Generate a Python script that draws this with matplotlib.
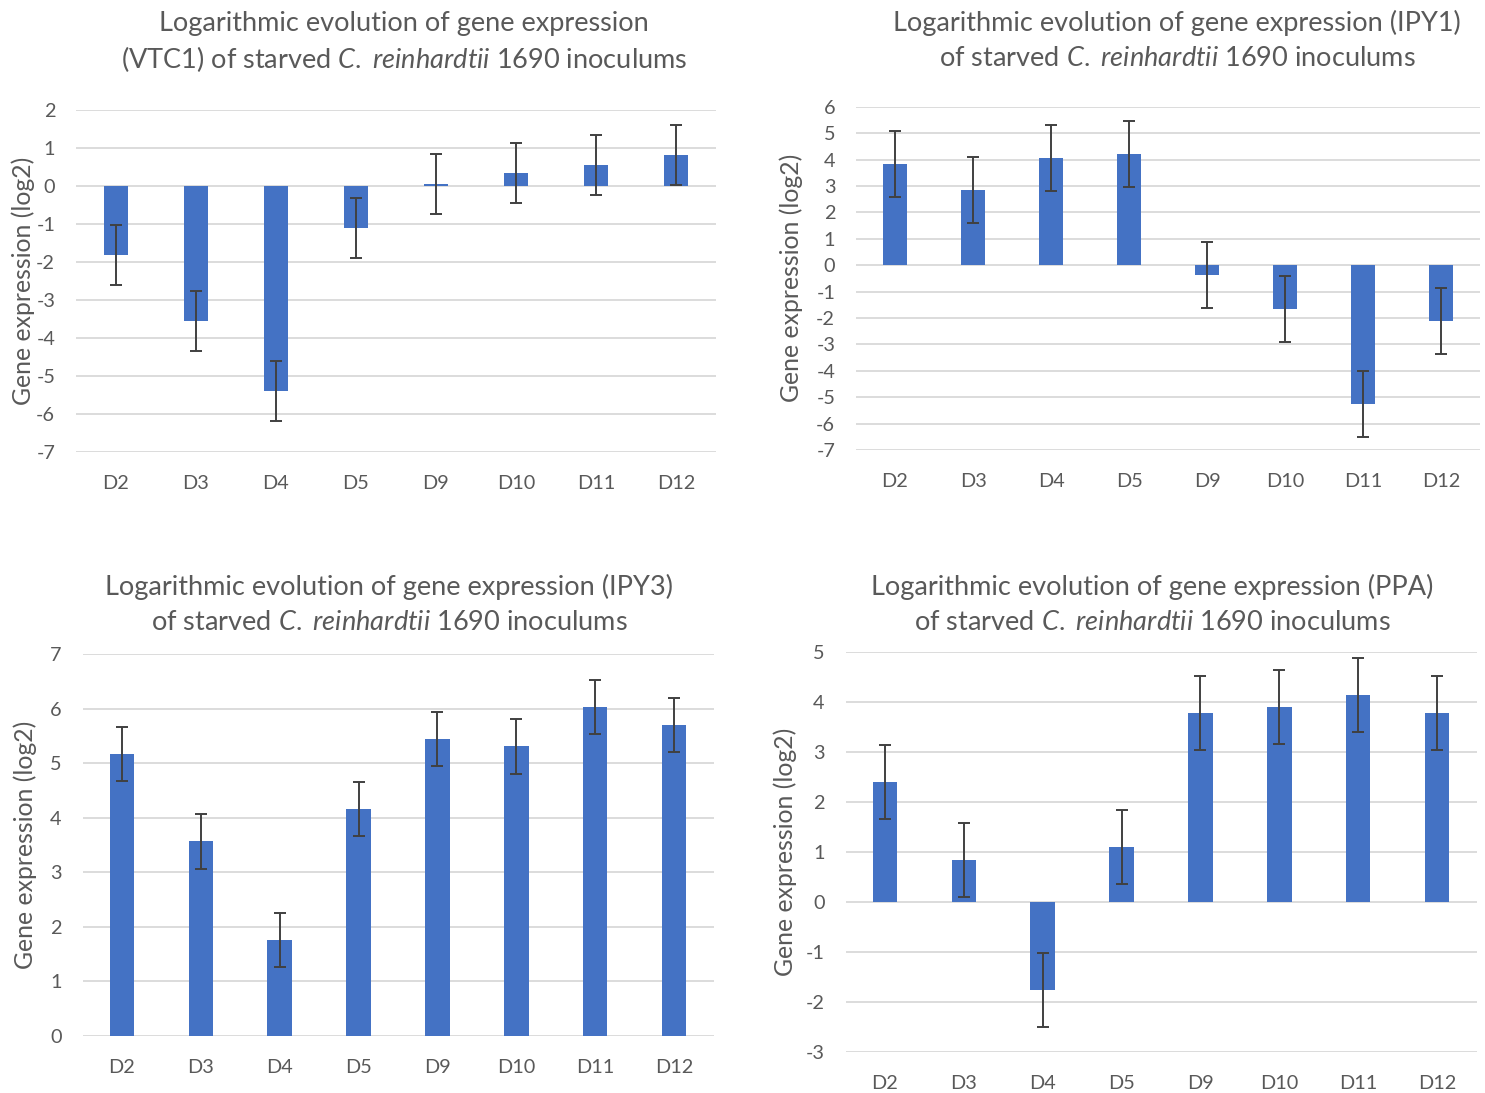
import matplotlib
matplotlib.use("Agg")
import matplotlib.pyplot as plt

plt.rcParams["font.family"] = ["Lato", "DejaVu Sans"]
plt.rcParams["mathtext.fontset"] = "custom"
plt.rcParams["mathtext.rm"] = "Lato"
plt.rcParams["mathtext.it"] = "Lato:italic"
plt.rcParams["axes.unicode_minus"] = False

days = ["D2", "D3", "D4", "D5", "D9", "D10", "D11", "D12"]

vtc1 = [-1.82, -3.55, -5.40, -1.10, 0.05, 0.34, 0.55, 0.82]
vtc1_err = [0.79, 0.79, 0.79, 0.79, 0.79, 0.79, 0.79, 0.79]

ipy1 = [3.84, 2.86, 4.04, 4.21, -0.37, -1.66, -5.25, -2.10]
ipy1_err = [1.25, 1.25, 1.25, 1.25, 1.25, 1.25, 1.25, 1.25]

ipy3 = [5.17, 3.57, 1.76, 4.16, 5.45, 5.31, 6.03, 5.70]
ipy3_err = [0.50, 0.50, 0.50, 0.50, 0.50, 0.50, 0.50, 0.50]

ppa = [2.40, 0.83, -1.77, 1.10, 3.78, 3.90, 4.13, 3.78]
ppa_err = [0.74, 0.74, 0.74, 0.74, 0.74, 0.74, 0.74, 0.74]

W, H = 1485, 1093
fig = plt.figure(figsize=(W / 100, H / 100), dpi=100)
fig.patch.set_facecolor("white")

BAR = "#4472C4"
GRID = "#D9D9D9"
TXT = "#595959"
ERR = "#404040"


def px_axes(x0, x1, y0, y1):
    return fig.add_axes([x0 / W, 1 - y1 / H, (x1 - x0) / W, (y1 - y0) / H])


def panel(box, vals, errs, ylim, label_x, title_lines, title_xy):
    ax = px_axes(*box)
    x = range(len(days))
    ax.set_axisbelow(True)
    ax.yaxis.grid(True, color=GRID, linewidth=1.3)
    ax.bar(x, vals, width=0.31, color=BAR, zorder=2)
    ax.errorbar(x, vals, yerr=errs, fmt="none", ecolor=ERR, elinewidth=1.4,
                capsize=4, capthick=1.4, zorder=3)
    ax.set_xlim(-0.5, len(days) - 0.5)
    ax.set_ylim(*ylim)
    ax.set_yticks(range(ylim[0], ylim[1] + 1))
    ax.set_xticks(list(x))
    ax.set_xticklabels(days)
    for s in ax.spines.values():
        s.set_visible(False)
    ax.tick_params(axis="both", length=0, labelsize=14.3, colors=TXT)
    ax.tick_params(axis="x", pad=16.5)
    ax.tick_params(axis="y", pad=15)
    ax.set_ylabel("Gene expression (log2)", fontsize=17.8, color=TXT)
    ax.yaxis.set_label_coords(label_x, 0.5)
    tx, ty = title_xy
    for i, line in enumerate(title_lines):
        fig.text(tx / W, 1 - (ty + 36 * i) / H, line, ha="center", va="center",
                 fontsize=19.5, color=TXT)
    return ax


species = r"$\mathit{C.}$ $\mathit{reinhardtii}$"
it_line = "of starved " + species + " 1690 inoculums"

panel((76, 716, 110, 452), vtc1, vtc1_err, (-7, 2), -0.064,
      ["Logarithmic evolution of gene expression",
       "(VTC1) of starved " + species + " 1690 inoculums"],
      (404, 23))

panel((856, 1480, 106.7, 450), ipy1, ipy1_err, (-7, 6), -0.085,
      ["Logarithmic evolution of gene expression (IPY1)", it_line],
      (1177, 23))

panel((82.5, 713.5, 654.3, 1036), ipy3, ipy3_err, (0, 7), -0.072,
      ["Logarithmic evolution of gene expression (IPY3)", it_line],
      (389, 587))

panel((845.5, 1476.5, 651.7, 1051.7), ppa, ppa_err, (-3, 5), -0.077,
      ["Logarithmic evolution of gene expression (PPA)", it_line],
      (1152, 587))

fig.savefig("out.png", dpi=100, facecolor="white")
